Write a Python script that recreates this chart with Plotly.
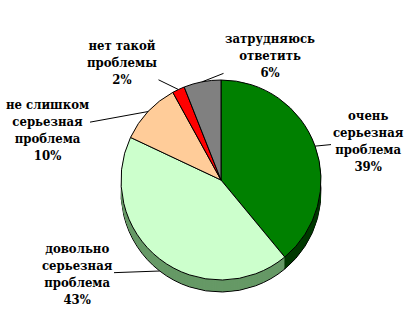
import math
import plotly.graph_objects as go

# ---- data ----
labels = ["очень серьезная проблема", "довольно серьезная проблема",
          "не слишком серьезная проблема", "нет такой проблемы", "затрудняюсь ответить"]
label_text = ["очень<br>серьезная<br>проблема<br>39%",
              "довольно<br>серьезная<br>проблема<br>43%",
              "не слишком<br>серьезная<br>проблема<br>10%",
              "нет такой<br>проблемы<br>2%",
              "затрудняюсь<br>ответить<br>6%"]
values = [39, 43, 10, 2, 6]
top_colors = ["#008000", "#CCFFCC", "#FFCC99", "#FF0000", "#808080"]
side_colors = ["#003800", "#669966", "#99785C", "#800000", "#404040"]

# ---- layout geometry (pixels) ----
W, H = 408, 311
CX, CY, R = 221, 180, 100
DEPTH = 12
# label centres (px)
label_pos = [(368, 141), (77, 274), (47, 130), (122, 62), (270, 55)]
use_depth = [False, True, False, False, False]

def domain(dy):
    return dict(x=[(CX - R) / W, (CX + R) / W],
                y=[1 - (CY + dy + R) / H, 1 - (CY + dy - R) / H])

fig = go.Figure()
for d in range(DEPTH, 0, -1):
    fig.add_trace(go.Pie(
        labels=labels, values=values, sort=False, direction="clockwise", rotation=0,
        marker=dict(colors=side_colors,
                    line=dict(color="black" if d == DEPTH else "rgba(0,0,0,0)",
                              width=1 if d == DEPTH else 0)),
        textinfo="none", hoverinfo="skip", showlegend=False, domain=domain(d)))

fig.add_trace(go.Pie(
    labels=labels, values=values, sort=False, direction="clockwise", rotation=0,
    marker=dict(colors=top_colors, line=dict(color="black", width=1)),
    textinfo="none", hoverinfo="skip", showlegend=False, domain=domain(0)))

total = sum(values)
cum = 0
annotations = []
for v, txt, (lx, ly), dep in zip(values, label_text, label_pos, use_depth):
    mid = (cum + v / 2) / total * 2 * math.pi
    cum += v
    hx = CX + R * math.sin(mid)
    hy = CY - R * math.cos(mid) + (DEPTH if dep else 0)
    annotations.append(dict(
        x=hx / W, y=1 - hy / H, xref="paper", yref="paper",
        ax=lx - hx, ay=ly - hy, axref="pixel", ayref="pixel",
        text="<b>" + txt + "</b>", showarrow=True, arrowhead=0, arrowwidth=1,
        arrowcolor="black",
        font=dict(family="DejaVu Serif Condensed", size=13, color="black"),
        align="center"))

fig.update_layout(width=W, height=H, margin=dict(l=0, r=0, t=0, b=0),
                  paper_bgcolor="white", plot_bgcolor="white",
                  annotations=annotations)
fig.write_html("out.html")
